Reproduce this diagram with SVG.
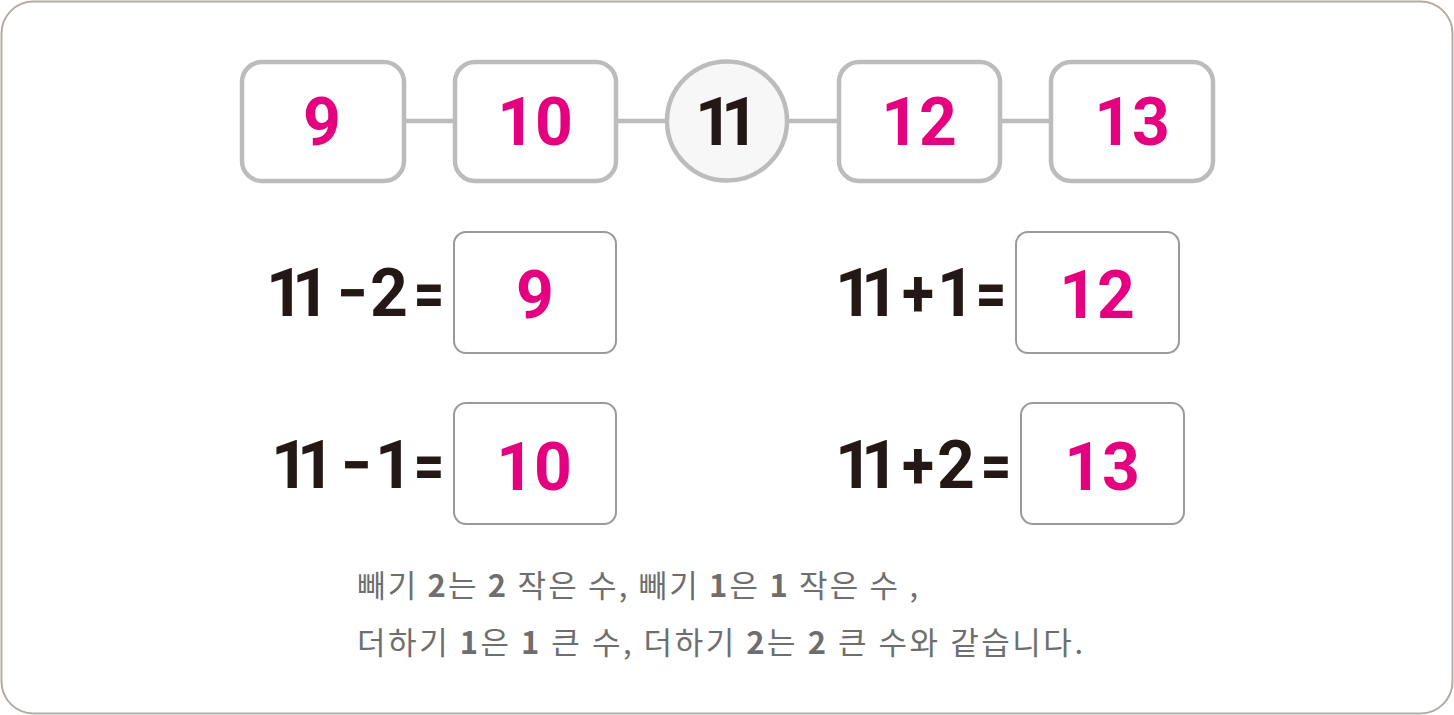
<svg xmlns="http://www.w3.org/2000/svg" width="1454" height="715" viewBox="0 0 1454 715">
<style>
.frame{fill:#fff;stroke:#b3aba4;stroke-width:2}
.tbox{fill:#fff;stroke:#bcbcbc;stroke-width:4.5}
.circ{fill:#f7f7f7;stroke:#bcbcbc;stroke-width:4.5}
.conn{stroke:#bcbcbc;stroke-width:4.5}
.abox{fill:#fff;stroke:#9a9a9a;stroke-width:2}
.num{font-family:Roboto,"Noto Sans",sans-serif;font-weight:700;font-size:66px;text-anchor:middle}
.pk{fill:#e4007f}
.dk{fill:#231815}
.note{font-family:"Noto Sans CJK KR","Noto Sans",sans-serif;font-size:31px;fill:#6e6e6e}
.b{font-weight:700}
</style>
<rect class="frame" x="1.5" y="1.5" width="1451" height="712" rx="32"/>
<g id="connectors">
<line class="conn" x1="404" y1="121" x2="454" y2="121"/>
<line class="conn" x1="616" y1="121" x2="667" y2="121"/>
<line class="conn" x1="787" y1="121" x2="838" y2="121"/>
<line class="conn" x1="1000" y1="121" x2="1050" y2="121"/>
</g>
<g id="n9"><rect class="tbox" x="242" y="62" width="162" height="119" rx="20"/><text class="num pk" x="322" y="145">9</text></g>
<g id="n10"><rect class="tbox" x="455" y="62" width="161" height="119" rx="20"/><text class="num pk" x="535" y="145">10</text></g>
<g id="n11"><ellipse class="circ" cx="727" cy="121" rx="60" ry="59.5"/><text class="num dk" x="714 740" y="145">11</text></g>
<g id="n12"><rect class="tbox" x="839" y="62" width="161" height="119" rx="20"/><text class="num pk" x="919" y="145">12</text></g>
<g id="n13"><rect class="tbox" x="1051" y="62" width="162" height="119" rx="20"/><text class="num pk" x="1132" y="145">13</text></g>
<g id="eq1">
<text class="num dk" x="285 311" y="316">11</text>
<text class="num dk" x="352" y="316" textLength="30" lengthAdjust="spacingAndGlyphs">−</text>
<text class="num dk" x="389" y="316">2</text>
<text class="num dk" x="429" y="316" textLength="31" lengthAdjust="spacingAndGlyphs">=</text>
<rect class="abox" x="454" y="232" width="162" height="121" rx="12"/><text class="num pk" x="535" y="318">9</text>
</g>
<g id="eq2">
<text class="num dk" x="290 316" y="488">11</text>
<text class="num dk" x="356" y="488" textLength="30" lengthAdjust="spacingAndGlyphs">−</text>
<text class="num dk" x="394" y="488">1</text>
<text class="num dk" x="429" y="488" textLength="31" lengthAdjust="spacingAndGlyphs">=</text>
<rect class="abox" x="454" y="403" width="162" height="121" rx="12"/><text class="num pk" x="534" y="490">10</text>
</g>
<g id="eq3">
<text class="num dk" x="854 880" y="316">11</text>
<text class="num dk" x="918" y="316" textLength="32" lengthAdjust="spacingAndGlyphs">+</text>
<text class="num dk" x="956" y="316">1</text>
<text class="num dk" x="991" y="316" textLength="31" lengthAdjust="spacingAndGlyphs">=</text>
<rect class="abox" x="1016" y="232" width="163" height="121" rx="12"/><text class="num pk" x="1097" y="318">12</text>
</g>
<g id="eq4">
<text class="num dk" x="854 880" y="488">11</text>
<text class="num dk" x="918" y="488" textLength="32" lengthAdjust="spacingAndGlyphs">+</text>
<text class="num dk" x="956" y="488">2</text>
<text class="num dk" x="996" y="488" textLength="31" lengthAdjust="spacingAndGlyphs">=</text>
<rect class="abox" x="1021" y="403" width="163" height="121" rx="12"/><text class="num pk" x="1102" y="490">13</text>
</g>
<g id="note">
<text class="note" x="357" y="597" textLength="561" lengthAdjust="spacing">빼기 <tspan class="b">2</tspan>는 <tspan class="b">2</tspan> 작은 수, 빼기 <tspan class="b">1</tspan>은 <tspan class="b">1</tspan> 작은 수 ,</text>
<text class="note" x="357" y="654" textLength="726" lengthAdjust="spacing">더하기 <tspan class="b">1</tspan>은 <tspan class="b">1</tspan> 큰 수, 더하기 <tspan class="b">2</tspan>는 <tspan class="b">2</tspan> 큰 수와 같습니다.</text>
</g>
</svg>
